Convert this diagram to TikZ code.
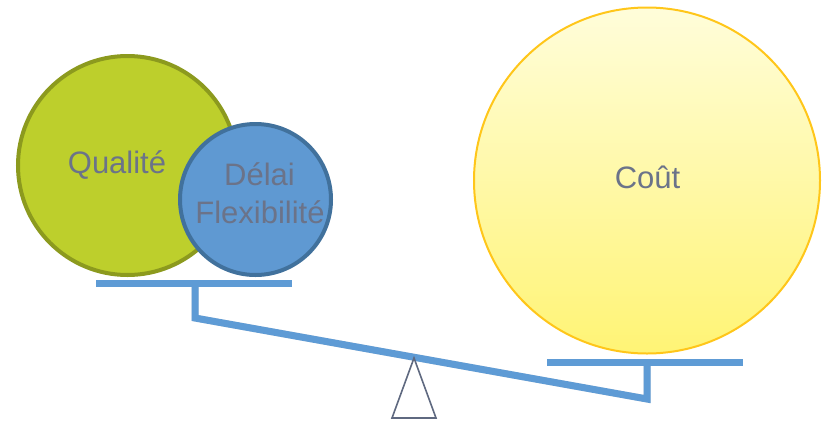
\documentclass[tikz,border=0pt]{standalone}
\usepackage{fontspec}
\setmainfont{Liberation Sans}
\definecolor{olivefill}{HTML}{BDCF2C}
\definecolor{olivedraw}{HTML}{8C9A1E}
\definecolor{bluefill}{HTML}{5F99D2}
\definecolor{bluedraw}{HTML}{41719C}
\definecolor{beamblue}{HTML}{5E9BD5}
\definecolor{ytop}{HTML}{FFFDDA}
\definecolor{ybot}{HTML}{FFF475}
\definecolor{ydraw}{HTML}{FFC61A}
\definecolor{txtgray}{HTML}{6B7389}
\definecolor{trigray}{HTML}{5F6980}
\tikzset{
  ball/.style={circle, inner sep=0pt, line width=4pt},
  lbl/.style={anchor=base, inner sep=0pt, text=txtgray, font=\fontsize{31}{38}\selectfont},
  beam/.style={line width=7pt, draw=beamblue},
  beamshadow/.style={line width=7pt, draw=black, opacity=0.12},
}
\begin{document}
\begin{tikzpicture}[x=1pt,y=-1pt]
\useasboundingbox (0,0) rectangle (827,426);
% balls
\node[ball, draw=olivedraw, fill=olivefill, minimum size=219pt] (q) at (127.5,165.5) {};
\node[ball, draw=bluedraw, fill=bluefill, minimum size=151pt] (d) at (255.5,199.5) {};
\node[circle, inner sep=0pt, line width=2pt, minimum size=346pt, draw=ydraw,
      top color=ytop, bottom color=ybot] (c) at (647,180.5) {};
% labels
\node[lbl] (tq) at (117,173) {Qualité};
\node[lbl] (td1) at (259.5,185) {Délai};
\node[lbl] (td2) at (260,223) {Flexibilité};
\node[lbl] (tc) at (647.5,188) {Coût};
% balance coordinates
\coordinate (lb1) at (96,283);
\coordinate (lb2) at (292,283);
\coordinate (ls) at (195,283);
\coordinate (le) at (195,318);
\coordinate (rb1) at (547,362);
\coordinate (rb2) at (743,362);
\coordinate (rs) at (647,362);
\coordinate (re) at (647,399);
% shadows
\begin{scope}[shift={(2,3)}]
\draw[beamshadow] (lb1) -- (lb2);
\draw[beamshadow] (ls) -- (le) -- (re) -- (rs);
\draw[beamshadow] (rb1) -- (rb2);
\end{scope}
% beams
\draw[beam] (lb1) -- (lb2);
\draw[beam] (ls) -- (le) -- (re) -- (rs);
\draw[beam] (rb1) -- (rb2);
% fulcrum
\coordinate (tA) at (414,358);
\coordinate (tB) at (436,418);
\coordinate (tC) at (392,418);
\draw[trigray, line width=1.6pt, fill=white, line join=miter] (tA) -- (tB) -- (tC) -- cycle;
\end{tikzpicture}
\end{document}
